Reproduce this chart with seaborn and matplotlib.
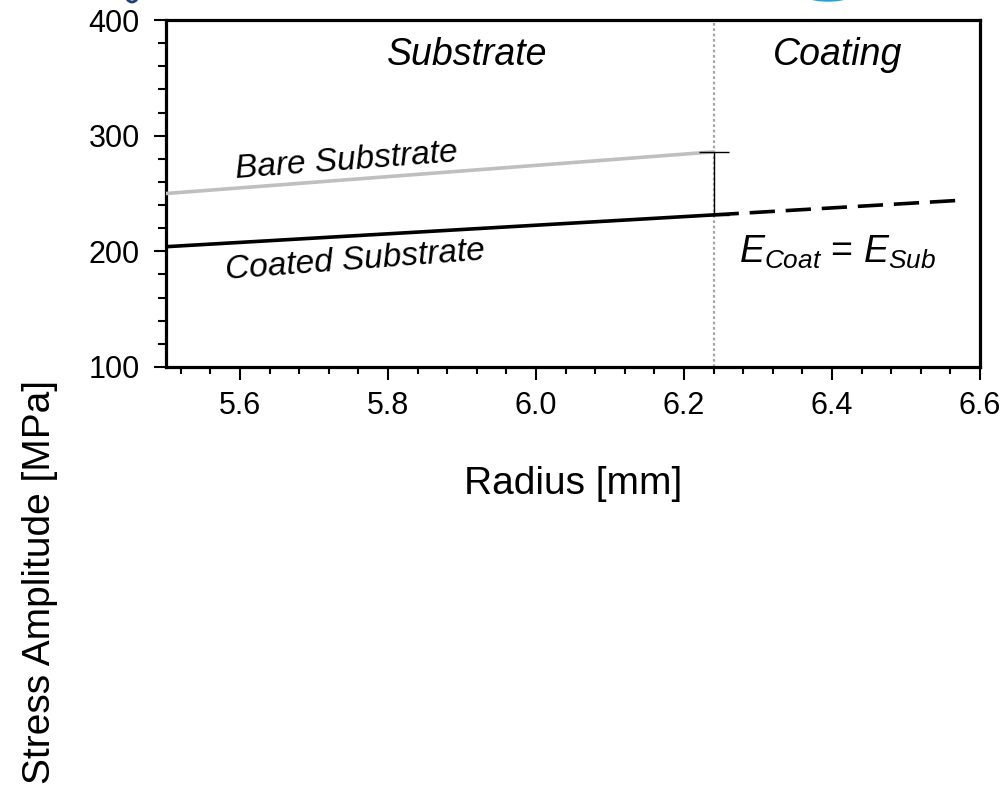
import matplotlib
matplotlib.use("Agg")
import matplotlib.pyplot as plt
import seaborn as sns
import pandas as pd
import numpy as np
from matplotlib.ticker import MultipleLocator, FormatStrFormatter
from matplotlib.patches import Ellipse

# ---- data ----
interface_radius = 6.24
substrate_radius = [5.5, 6.24]
bare_stress = [250.0, 286.0]
coated_stress = [204.0, 231.5]
coating_radius = [6.24, 6.57]
coating_stress = [231.5, 244.0]
x_ticks = [5.6, 5.8, 6.0, 6.2, 6.4, 6.6]
y_ticks = [100, 200, 300, 400]

sns.set_style("white")
plt.rcParams["font.family"] = ["Liberation Sans", "DejaVu Sans"]
plt.rcParams["mathtext.fontset"] = "custom"
plt.rcParams["mathtext.rm"] = "Liberation Sans"
plt.rcParams["mathtext.it"] = "Liberation Sans:italic"
plt.rcParams["text.color"] = "black"
plt.rcParams["axes.labelcolor"] = "black"
plt.rcParams["xtick.color"] = "black"
plt.rcParams["ytick.color"] = "black"

fig = plt.figure(figsize=(10.05, 7.99), dpi=100)
ax = fig.add_axes([166/1005, 1-367/799, 814/1005, 347/799])

# logo fragments cut off at the top edge
fig.patches.append(Ellipse((828/1005, 1+10/799), 60/1005, 22/799, transform=fig.transFigure,
                           color="#1BA1D8", zorder=0))
fig.patches.append(Ellipse((132/1005, 1+8/799), 14/1005, 20/799, transform=fig.transFigure,
                           facecolor="none", edgecolor="#1F3F7A", lw=2, zorder=0))

df_bare = pd.DataFrame({"r": substrate_radius, "s": bare_stress})
df_coat = pd.DataFrame({"r": substrate_radius, "s": coated_stress})
df_ext = pd.DataFrame({"r": coating_radius, "s": coating_stress})

ax.axvline(interface_radius, color="#A6A6A6", linestyle=(0, (1.2, 1.2)), lw=1.6, zorder=1)
sns.lineplot(data=df_bare, x="r", y="s", ax=ax, color="#BFBFBF", lw=2.6, zorder=3)
sns.lineplot(data=df_coat, x="r", y="s", ax=ax, color="black", lw=2.6, zorder=4)
sns.lineplot(data=df_ext, x="r", y="s", ax=ax, color="black", lw=2.6, zorder=4,
             dashes=False, linestyle=(0, (7, 3)))
ax.errorbar([interface_radius], [coated_stress[-1]],
            yerr=[[0], [bare_stress[-1] - coated_stress[-1]]],
            fmt="none", ecolor="black", elinewidth=1.0, capsize=11, capthick=1.0, zorder=5)

ax.set_xlim(5.5, 6.6)
ax.set_ylim(100, 400)
ax.set_xticks(x_ticks)
ax.set_yticks(y_ticks)
ax.xaxis.set_major_formatter(FormatStrFormatter("%.1f"))
ax.xaxis.set_minor_locator(MultipleLocator(0.04))
ax.yaxis.set_minor_locator(MultipleLocator(20))
ax.tick_params(axis="both", which="both", direction="out", width=1.5, colors="black",
               left=True, bottom=True, top=False, right=False)
ax.tick_params(axis="both", which="major", length=9, labelsize=22)
ax.tick_params(axis="y", which="minor", length=6)
ax.tick_params(axis="x", which="minor", length=5)
ax.tick_params(axis="x", which="major", pad=8)
ax.tick_params(axis="y", which="major", pad=10)
for sp in ax.spines.values():
    sp.set_visible(True)
    sp.set_color("black")
    sp.set_linewidth(2.3)

ax.set_xlabel("Radius [mm]", fontsize=28)
ax.xaxis.set_label_coords(0.5, -0.285)
ax.xaxis.label.set_va("top")
ax.set_ylabel("Stress Amplitude [MPa]", fontsize=28)
ax.yaxis.set_label_coords(-0.133, -0.62)

ax.text(5.907, 370, "Substrate", fontsize=27, style="italic", ha="center", va="center")
ax.text(6.408, 370, "Coating", fontsize=27, style="italic", ha="center", va="center")
ax.text(5.744, 278, "Bare Substrate", fontsize=24, style="italic", ha="center", va="center",
        rotation=4.3, rotation_mode="anchor")
ax.text(5.756, 192, "Coated Substrate", fontsize=24, style="italic", ha="center", va="center",
        rotation=4.3, rotation_mode="anchor")
ax.text(6.408, 199, r"$E_{Coat}$ = $E_{Sub}$", fontsize=27, ha="center", va="center")

fig.savefig("out.png", dpi=100, facecolor="white")
